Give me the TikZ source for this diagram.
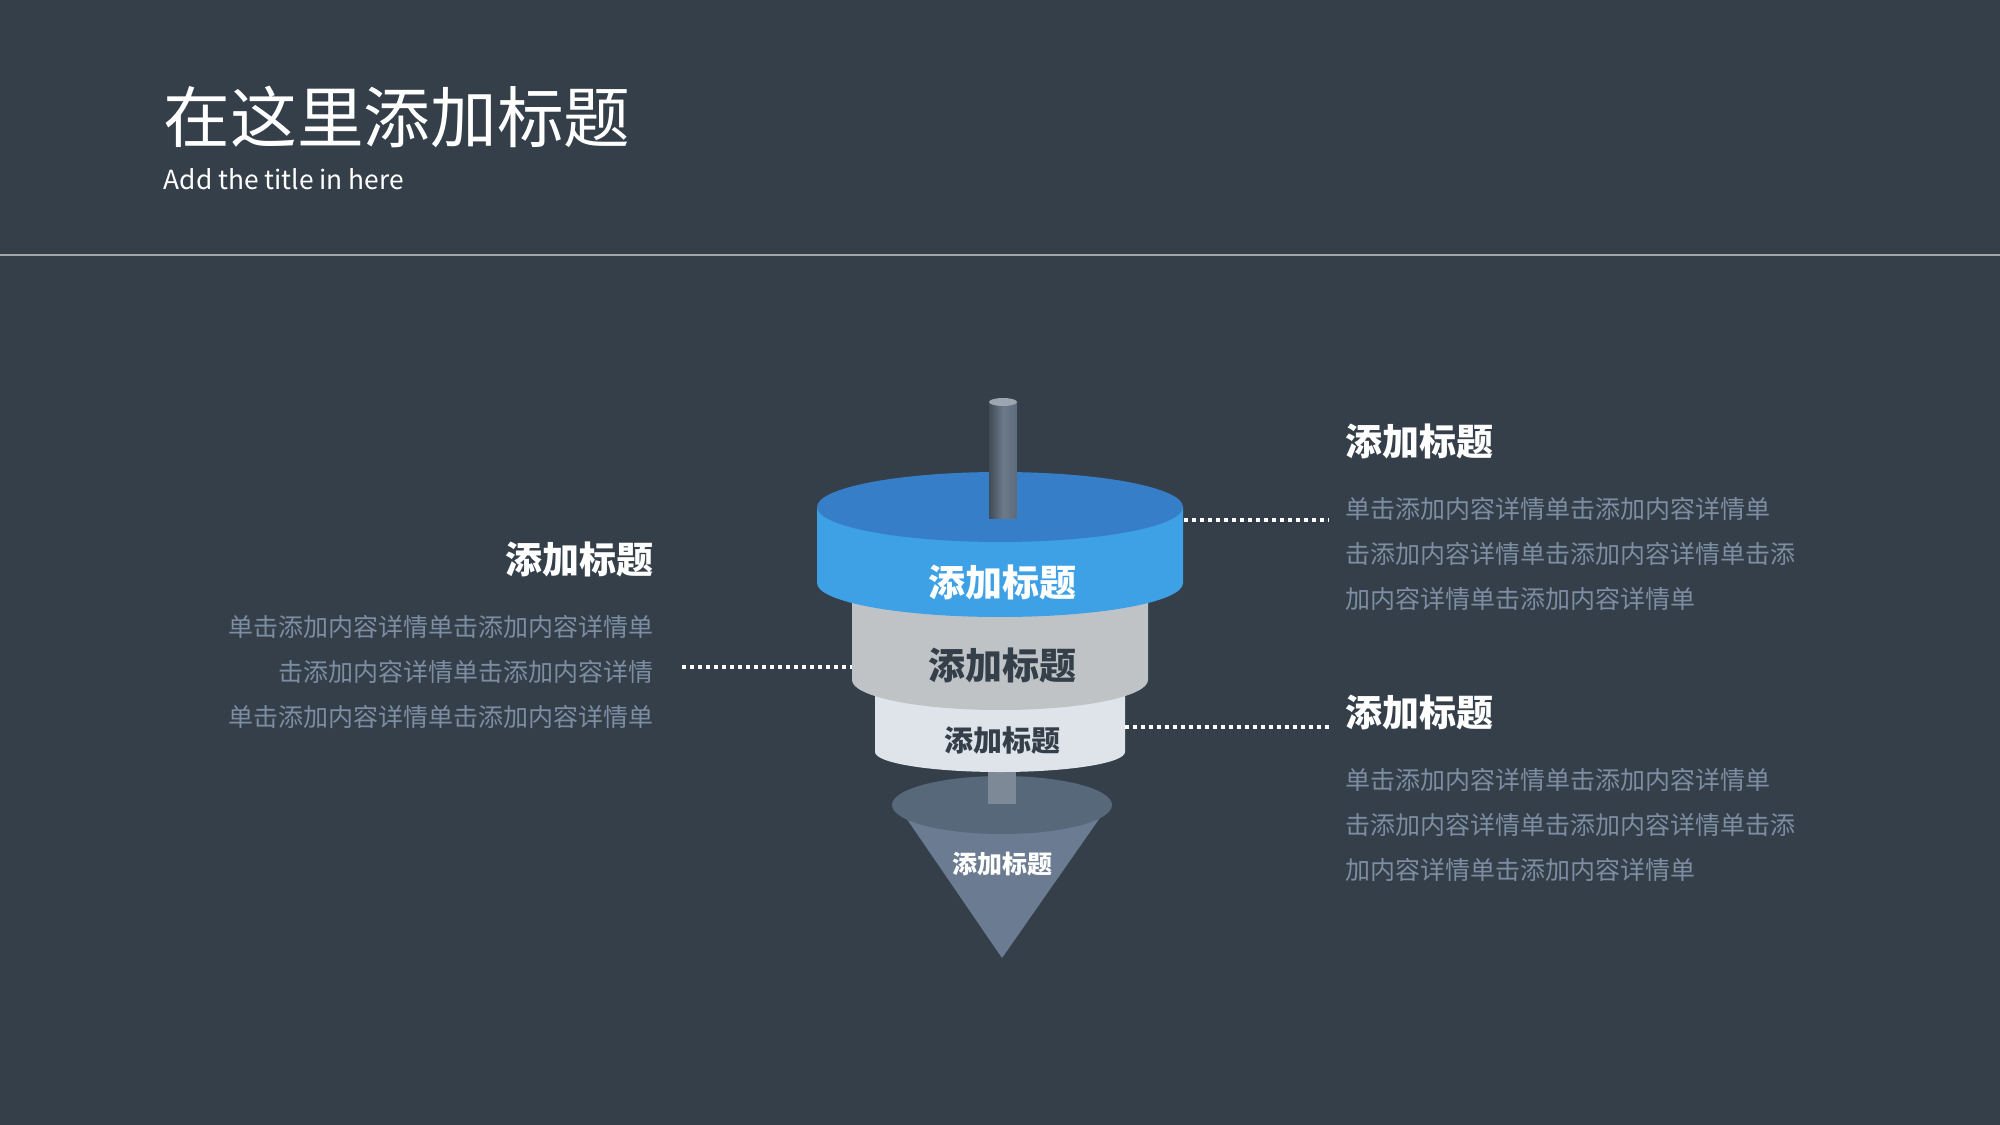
\documentclass[tikz,border=0pt]{standalone}
\usepackage{fontspec}
\setmainfont{Noto Sans CJK SC}
\usetikzlibrary{positioning}
\definecolor{bgcol}{HTML}{343F4A}
\definecolor{bluetop}{HTML}{367FC8}
\definecolor{blueside}{HTML}{3EA1E6}
\definecolor{grayside}{HTML}{BFC3C6}
\definecolor{lightside}{HTML}{DFE3EA}
\definecolor{rodcol}{HTML}{5C6B7C}
\definecolor{conetop}{HTML}{58687B}
\definecolor{conecol}{HTML}{6B7C92}
\definecolor{bodycol}{HTML}{7D8DA2}
\definecolor{darktext}{HTML}{343F4A}
\tikzset{
  head/.style={font=\fontsize{11.1}{13}\selectfont\bfseries, text=white, inner sep=0},
  body/.style={font=\fontsize{7.5}{13.5}\selectfont, text=bodycol, inner sep=0},
  leader/.style={white, line width=1.2pt, dash pattern=on 1.2pt off 1.2pt},
}
\begin{document}
\begin{tikzpicture}[x=0.3pt,y=-0.3pt]
\fill[bgcol] (0,0) rectangle (2000,1125);
\useasboundingbox (0,0) rectangle (2000,1125);

\node[anchor=west, text=white, font=\fontsize{20}{22}\selectfont, inner sep=0] (title) at (163,117) {在这里添加标题};
\node[anchor=west, text=white, font=\fontsize{7.9}{9}\selectfont, inner sep=0] (subtitle) at (163,179) {Add the title in here};
\draw[gray!70, line width=0.6pt] (0,255) -- (2000,255);

% cone
\fill[conecol] (902,812) -- (1002,958) -- (1104,812) -- cycle;
\fill[conetop] (1002,805) ellipse[x radius=110, y radius=29];
\node[head, font=\fontsize{7.5}{9}\selectfont\bfseries] (l4) at (1002,864) {添加标题};
\fill[rodcol!80!white] (988,760) rectangle (1016,804);

% light cylinder
\fill[lightside] (875,690) -- (875,752) arc[start angle=180, end angle=0, x radius=125, y radius=20] -- (1125,690) -- cycle;
\node[head, text=darktext, font=\fontsize{8.7}{10}\selectfont\bfseries] (l3) at (1002,740) {添加标题};

% gray cylinder
\fill[grayside] (852,600) -- (852,680) arc[start angle=180, end angle=0, x radius=148, y radius=30] -- (1148,600) -- cycle;
\node[head, text=darktext] (l2) at (1002,665) {添加标题};

% blue cylinder
\fill[blueside] (817,507) -- (817,583) arc[start angle=180, end angle=0, x radius=183, y radius=34] -- (1183,507) -- cycle;
\fill[bluetop] (1000,507) ellipse[x radius=183, y radius=35];
\node[head] (l1) at (1002,582) {添加标题};

% top rod
\shade[left color=rodcol!70!black, right color=rodcol, middle color=rodcol!90!white] (989,402) rectangle (1017,518);
\fill[rodcol!60!white] (1003,402) ellipse[x radius=14, y radius=4];

% right texts
\node[head, anchor=west] (h1) at (1345,441) {添加标题};
\node[body, anchor=north west, align=left] (b1) at (1345,497) {单击添加内容详情单击添加内容详情单\\击添加内容详情单击添加内容详情单击添\\加内容详情单击添加内容详情单};
\node[head, anchor=west] (h2) at (1345,712) {添加标题};
\node[body, anchor=north west, align=left] (b2) at (1345,768) {单击添加内容详情单击添加内容详情单\\击添加内容详情单击添加内容详情单击添\\加内容详情单击添加内容详情单};

% left texts
\node[head, anchor=east] (h3) at (654,559) {添加标题};
\node[body, anchor=north east, align=right] (b3) at (654,615) {单击添加内容详情单击添加内容详情单\\击添加内容详情单击添加内容详情\\单击添加内容详情单击添加内容详情单};

% leaders
\coordinate (r1a) at (1184,520);
\coordinate (r1b) at (1329,520);
\coordinate (r2a) at (1125,727);
\coordinate (r2b) at (1329,727);
\coordinate (lfa) at (682,667);
\coordinate (lfb) at (852,667);
\draw[leader] (r1a) -- (r1b);
\draw[leader] (r2a) -- (r2b);
\draw[leader] (lfa) -- (lfb);
\end{tikzpicture}
\end{document}
